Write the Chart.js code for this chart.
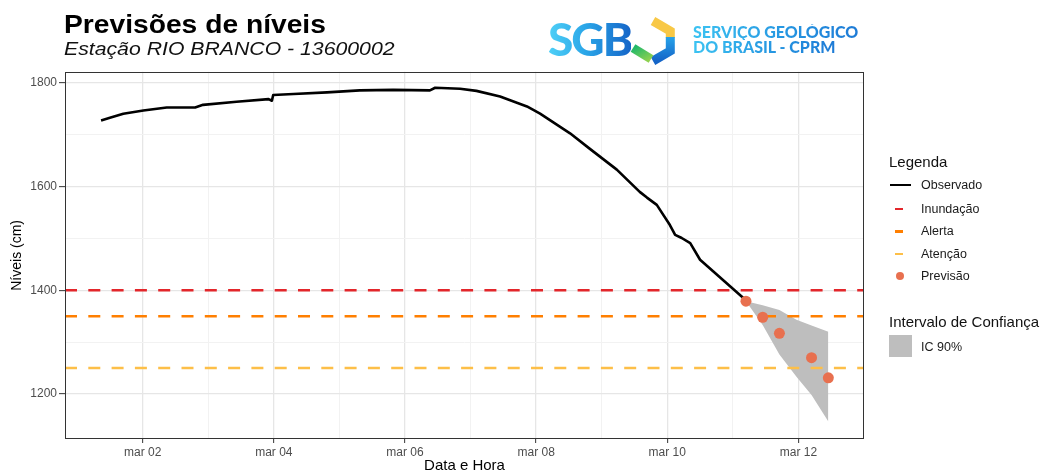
<!DOCTYPE html>
<html>
<head>
<meta charset="utf-8">
<script src="https://cdn.jsdelivr.net/npm/chart.js@4.4.1/dist/chart.umd.min.js"></script>
<style>
html,body{margin:0;padding:0;background:#fff;width:1046px;height:473px;overflow:hidden;font-family:'Liberation Sans',Arial,sans-serif;}
#wrap{position:relative;width:1046px;height:473px;}
#c{position:absolute;left:0;top:0;}
.t{position:absolute;white-space:nowrap;line-height:1;color:#000;}
#title{left:64px;top:11px;font-size:26px;font-weight:bold;transform:scaleX(1.085);transform-origin:0 0;}
#subtitle{left:64px;top:40px;font-size:18px;font-style:italic;transform:scaleX(1.18);transform-origin:0 0;color:#111;}
.lg-title{font-size:15px;left:889px;color:#111;}
.lg-text{font-size:12.5px;left:921px;color:#1a1a1a;}
.key{position:absolute;}
.logo-sgb{position:absolute;left:548px;top:15.5px;font-family:Lato,'Open Sans',sans-serif;font-weight:900;font-size:46px;line-height:1;letter-spacing:-2px;
 background:linear-gradient(90deg,#4fd0f7 0%,#2aa6e8 45%,#1565c8 100%);-webkit-background-clip:text;background-clip:text;color:transparent;white-space:nowrap;}
.logo-txt{position:absolute;left:693px;font-family:Lato,'Open Sans',sans-serif;font-weight:900;font-size:16px;line-height:1;white-space:nowrap;
 background:linear-gradient(90deg,#3cc3f2 0%,#2493e0 60%,#1e7bd6 100%);-webkit-background-clip:text;background-clip:text;color:transparent;}
</style>
</head>
<body>
<div id="wrap">
<canvas id="c" width="1046" height="473"></canvas>
<div class="t" id="title">Previsões de níveis</div>
<div class="t" id="subtitle">Estação RIO BRANCO - 13600002</div>

<div class="logo-sgb">SGB</div>
<svg style="position:absolute;left:629px;top:17px" width="48" height="48" viewBox="0 0 48 48">
  <defs>
    <linearGradient id="gb" x1="0" y1="0" x2="0" y2="1"><stop offset="0" stop-color="#27a3ea"/><stop offset="1" stop-color="#1565c8"/></linearGradient>
    <linearGradient id="gg" x1="0" y1="0" x2="1" y2="1"><stop offset="0" stop-color="#1fb86a"/><stop offset="1" stop-color="#8fd14f"/></linearGradient>
  </defs>
  <polyline points="24,4 41.3,14 41.3,21" fill="none" stroke="#f8c846" stroke-width="9" stroke-linejoin="miter"/>
  <polyline points="41.3,20 41.3,34 24,44" fill="none" stroke="url(#gb)" stroke-width="9" stroke-linejoin="miter"/>
  <polyline points="4,31 22,42" fill="none" stroke="url(#gg)" stroke-width="9"/>
</svg>
<div class="logo-txt" style="top:24.1px">SERVIÇO GEOLÓGICO</div>
<div class="logo-txt" style="top:38.5px">DO BRASIL - CPRM</div>

<div class="t lg-title" style="top:154.4px">Legenda</div>
<div class="key" style="left:890px;top:183.8px;width:21px;height:2.5px;background:#000"></div>
<div class="t lg-text" style="top:178.9px">Observado</div>
<div class="key" style="left:895px;top:207.8px;width:8px;height:2.5px;background:#E3262B"></div>
<div class="t lg-text" style="top:202.9px">Inundação</div>
<div class="key" style="left:895px;top:230px;width:8px;height:2.5px;background:#FF7F00"></div>
<div class="t lg-text" style="top:225.1px">Alerta</div>
<div class="key" style="left:895px;top:252.6px;width:8px;height:2.5px;background:#FDBF48"></div>
<div class="t lg-text" style="top:247.7px">Atenção</div>
<div class="key" style="left:895.7px;top:271.5px;width:8.6px;height:8.6px;border-radius:50%;background:#E8704F"></div>
<div class="t lg-text" style="top:269.7px">Previsão</div>

<div class="t lg-title" style="top:314.4px">Intervalo de Confiança</div>
<div class="key" style="left:889px;top:335px;width:22.7px;height:21.7px;background:#BEBEBE"></div>
<div class="t lg-text" style="top:340.6px">IC 90%</div>
</div>

<script>
// ---------------- data ----------------
const obsDays   = [1.365, 1.50, 1.704, 2.01, 2.366, 2.80, 2.92, 3.43, 3.92, 3.97, 3.99, 4.30, 4.81, 5.31, 5.82, 6.38, 6.46, 6.84, 7.09, 7.45, 7.86, 8.06, 8.517, 8.82, 9.23, 9.58, 9.69, 9.84, 10.04, 10.12, 10.22, 10.35, 10.50, 11.16, 11.20];
const obsLevels = [1728, 1733, 1741, 1747, 1753, 1753, 1758, 1764, 1769, 1766, 1777, 1779, 1782, 1786, 1787, 1786, 1791, 1789, 1785, 1774, 1755, 1741, 1703, 1673, 1633, 1590, 1579, 1565, 1526, 1507, 1501, 1491, 1459, 1385, 1379];

const fcDays   = [11.20, 11.455, 11.71, 12.20, 12.456];
const fcLevels = [1379, 1348, 1317, 1270, 1231];

const ciDays  = [11.20, 11.455, 11.71, 11.97, 12.20, 12.456];
const ciUpper = [1379, 1371, 1362, 1343, 1332, 1320];
const ciLower = [1379, 1333, 1276, 1233, 1198, 1147];

const thresholdNames  = ['Inundação', 'Alerta', 'Atenção'];
const thresholdLevels = [1400, 1350, 1250];

const xMajor      = [2, 4, 6, 8, 10, 12];
const xTickLabels = ['mar 02', 'mar 04', 'mar 06', 'mar 08', 'mar 10', 'mar 12'];
const xMinor      = [3, 5, 7, 9, 11];
const yMajor      = [1200, 1400, 1600, 1800];
const yMinor      = [1300, 1500, 1700];

const xMin = 0.815, xMax = 13.0;
const yMin = 1113, yMax = 1822;

// ---------------- styles ----------------
const thresholdColors = ['#E3262B', '#FF7F00', '#FDBF48'];
const gridMajor = '#E6E6E6', gridMinor = '#F2F2F2';
const tickText = '#4D4D4D';

Chart.defaults.font.family = "'Liberation Sans', Arial, sans-serif";

const toXY = (xs, ys) => xs.map((x, i) => ({x: x, y: ys[i]}));

const datasets = [];
datasets.push({label: 'Previsão', data: toXY(fcDays, fcLevels), showLine: false,
  pointRadius: 5.5, pointHoverRadius: 5.5, pointBackgroundColor: '#E8704F', pointBorderWidth: 0, borderColor: '#E8704F'});
datasets.push({label: 'Observado', data: toXY(obsDays, obsLevels), borderColor: '#000',
  borderWidth: 2.6, pointRadius: 0, tension: 0, fill: false, borderJoinStyle: 'round'});
thresholdLevels.forEach((lv, i) => {
  datasets.push({label: thresholdNames[i], data: [{x: xMin, y: lv}, {x: xMax, y: lv}],
    borderColor: thresholdColors[i], borderWidth: 2.5, borderDash: [12, 11.3], pointRadius: 0, fill: false});
});
datasets.push({label: 'IC 90% sup', data: toXY(ciDays, ciUpper), borderWidth: 0, borderColor: 'rgba(0,0,0,0)',
  pointRadius: 0, fill: '+1', backgroundColor: '#BEBEBE'});
datasets.push({label: 'IC 90% inf', data: toXY(ciDays, ciLower), borderWidth: 0, borderColor: 'rgba(0,0,0,0)',
  pointRadius: 0, fill: false});

const panelBorder = {
  id: 'panelBorder',
  afterDatasetsDraw(chart) {
    const {ctx, chartArea: a} = chart;
    ctx.save();
    ctx.strokeStyle = '#333333';
    ctx.lineWidth = 1;
    ctx.strokeRect(Math.round(a.left) + 0.5, Math.round(a.top) + 0.5,
      Math.round(a.right) - Math.round(a.left) - 1, Math.round(a.bottom) - Math.round(a.top) - 1);
    ctx.restore();
  }
};

const isMajorX = v => xMajor.indexOf(v) >= 0;
const isMajorY = v => yMajor.indexOf(v) >= 0;

new Chart(document.getElementById('c'), {
  type: 'line',
  data: {datasets: datasets},
  options: {
    responsive: false,
    animation: false,
    events: [],
    layout: {padding: {top: 71.7, right: 182, left: 0, bottom: 0}},
    plugins: {legend: {display: false}, tooltip: {enabled: false}, title: {display: false}},
    scales: {
      x: {
        type: 'linear', min: xMin, max: xMax,
        afterFit(s) { s.height = 34; },
        afterBuildTicks(s) { s.ticks = xMajor.concat(xMinor).sort((a, b) => a - b).map(v => ({value: v})); },
        ticks: {autoSkip: false, maxRotation: 0, padding: 2, color: tickText, font: {size: 12},
          callback(v) { const i = xMajor.indexOf(v); return i >= 0 ? xTickLabels[i] : ''; }},
        grid: {
          color: c => (c.tick && isMajorX(c.tick.value)) ? gridMajor : gridMinor,
          lineWidth: c => (c.tick && isMajorX(c.tick.value)) ? 1.3 : 1,
          tickColor: c => (c.tick && isMajorX(c.tick.value)) ? '#333333' : 'rgba(0,0,0,0)',
          tickLength: 4, tickWidth: 1
        },
        border: {display: false},
        title: {display: true, text: 'Data e Hora', color: '#000', font: {size: 15}, padding: {top: 0, bottom: -2}}
      },
      y: {
        type: 'linear', min: yMin, max: yMax,
        afterFit(s) { s.width = 65; },
        afterBuildTicks(s) { s.ticks = yMajor.concat(yMinor).sort((a, b) => a - b).map(v => ({value: v})); },
        ticks: {autoSkip: false, padding: 2, color: tickText, font: {size: 12},
          callback(v) { return isMajorY(v) ? String(v) : ''; }},
        grid: {
          color: c => (c.tick && isMajorY(c.tick.value)) ? gridMajor : gridMinor,
          lineWidth: c => (c.tick && isMajorY(c.tick.value)) ? 1.3 : 1,
          tickColor: c => (c.tick && isMajorY(c.tick.value)) ? '#333333' : 'rgba(0,0,0,0)',
          tickLength: 6, tickWidth: 1
        },
        border: {display: false},
        title: {display: true, text: 'Níveis (cm)', color: '#000', font: {size: 14}, padding: {top: 8.6, bottom: 0}}
      }
    }
  },
  plugins: [panelBorder]
});
</script>
</body>
</html>
